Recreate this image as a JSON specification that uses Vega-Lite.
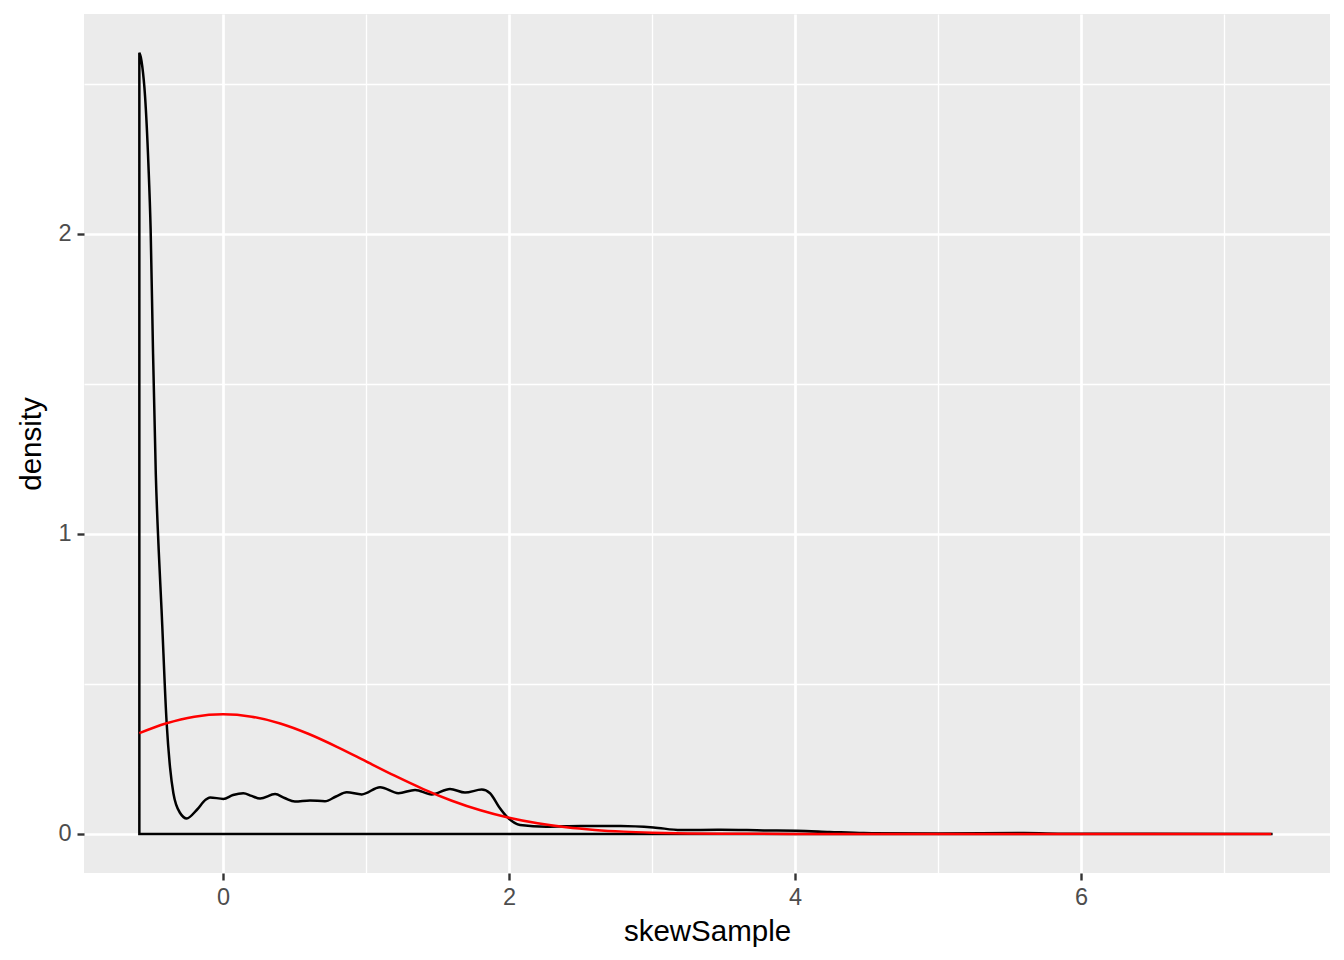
{
  "$schema": "https://vega.github.io/schema/vega-lite/v6.json",
  "width": 1246,
  "height": 859,
  "autosize": {"type": "none"},
  "padding": {"left": 84, "top": 14, "right": 14, "bottom": 87},
  "background": "white",
  "config": {
    "view": {"fill": "#EBEBEB", "stroke": null},
    "font": "Liberation Sans"
  },
  "datasets": {
    "dens": [
      {"x": -0.585, "d": 2.604}, {"x": -0.575, "d": 2.59}, {"x": -0.565, "d": 2.56},
      {"x": -0.545, "d": 2.458}, {"x": -0.522, "d": 2.236}, {"x": -0.506, "d": 2.013},
      {"x": -0.49, "d": 1.62}, {"x": -0.47, "d": 1.2}, {"x": -0.45, "d": 0.95},
      {"x": -0.43, "d": 0.75}, {"x": -0.394, "d": 0.369}, {"x": -0.37, "d": 0.22},
      {"x": -0.347, "d": 0.136}, {"x": -0.3, "d": 0.07}, {"x": -0.254, "d": 0.052},
      {"x": -0.184, "d": 0.08}, {"x": -0.12, "d": 0.115}, {"x": -0.091, "d": 0.122},
      {"x": 0.002, "d": 0.117}, {"x": 0.07, "d": 0.13}, {"x": 0.142, "d": 0.136},
      {"x": 0.2, "d": 0.127}, {"x": 0.259, "d": 0.118}, {"x": 0.364, "d": 0.133},
      {"x": 0.43, "d": 0.12}, {"x": 0.503, "d": 0.108}, {"x": 0.608, "d": 0.112},
      {"x": 0.713, "d": 0.109}, {"x": 0.79, "d": 0.125}, {"x": 0.865, "d": 0.139},
      {"x": 0.97, "d": 0.132}, {"x": 1.098, "d": 0.156}, {"x": 1.226, "d": 0.136},
      {"x": 1.343, "d": 0.147}, {"x": 1.459, "d": 0.132}, {"x": 1.587, "d": 0.15},
      {"x": 1.692, "d": 0.138}, {"x": 1.809, "d": 0.148}, {"x": 1.867, "d": 0.136},
      {"x": 1.93, "d": 0.09}, {"x": 1.984, "d": 0.058}, {"x": 2.077, "d": 0.03},
      {"x": 2.26, "d": 0.024}, {"x": 2.5, "d": 0.027}, {"x": 2.78, "d": 0.027},
      {"x": 3.01, "d": 0.022}, {"x": 3.2, "d": 0.013}, {"x": 3.48, "d": 0.014},
      {"x": 3.78, "d": 0.012}, {"x": 4.01, "d": 0.011}, {"x": 4.24, "d": 0.007},
      {"x": 4.48, "d": 0.003}, {"x": 5.0, "d": 0.002}, {"x": 5.6, "d": 0.003},
      {"x": 5.9, "d": 0.001}, {"x": 6.5, "d": 0.0005}, {"x": 7.33, "d": 0.0002}
    ],
    "norm": [
      {"x": -0.585, "d": 0.3362}, {"x": -0.4, "d": 0.3683}, {"x": -0.2, "d": 0.391},
      {"x": 0, "d": 0.3989}, {"x": 0.2, "d": 0.391}, {"x": 0.4, "d": 0.3683},
      {"x": 0.6, "d": 0.3332}, {"x": 0.8, "d": 0.2897}, {"x": 1.0, "d": 0.242},
      {"x": 1.2, "d": 0.1942}, {"x": 1.4, "d": 0.1497}, {"x": 1.6, "d": 0.1109},
      {"x": 1.8, "d": 0.079}, {"x": 2.0, "d": 0.054}, {"x": 2.2, "d": 0.0355},
      {"x": 2.4, "d": 0.0224}, {"x": 2.6, "d": 0.0136}, {"x": 2.8, "d": 0.0079},
      {"x": 3.0, "d": 0.0044}, {"x": 3.25, "d": 0.002}, {"x": 3.5, "d": 0.0009},
      {"x": 4.0, "d": 0.0001}, {"x": 5.0, "d": 0.0}, {"x": 6.0, "d": 0.0}, {"x": 7.33, "d": 0.0}
    ]
  },
  "layer": [
    {
      "data": {"name": "dens"},
      "mark": {"type": "area", "interpolate": "monotone", "fillOpacity": 0, "stroke": "black", "strokeWidth": 2.5},
      "encoding": {
        "x": {
          "field": "x", "type": "quantitative",
          "scale": {"domain": [-0.972, 7.74], "nice": false, "zero": false},
          "axis": {
            "values": [0, 2, 4, 6], "format": "d",
            "grid": true, "gridColor": "white", "gridWidth": 2.7,
            "domain": false, "tickColor": "#333333", "tickWidth": 2.4, "tickSize": 7,
            "labelFontSize": 23.5, "labelColor": "#4D4D4D", "labelPadding": 5,
            "title": "skewSample", "titleFontSize": 29.5, "titleFontWeight": "normal", "titleColor": "black",
            "titleBaseline": "alphabetic", "titleY": 67
          }
        },
        "y": {
          "field": "d", "type": "quantitative",
          "scale": {"domain": [-0.13, 2.733], "nice": false, "zero": false},
          "axis": {
            "values": [0, 1, 2], "format": "d",
            "grid": true, "gridColor": "white", "gridWidth": 2.7,
            "domain": false, "tickColor": "#333333", "tickWidth": 2.4, "tickSize": 7,
            "labelFontSize": 23.5, "labelColor": "#4D4D4D", "labelPadding": 6,
            "title": "density", "titleFontSize": 29.5, "titleFontWeight": "normal", "titleColor": "black",
            "titleBaseline": "alphabetic", "titleX": -44
          }
        },
        "y2": {"datum": 0}
      }
    },
    {
      "data": {"name": "norm"},
      "mark": {"type": "line", "interpolate": "monotone", "color": "#FF0000", "strokeWidth": 2.5},
      "encoding": {
        "x": {
          "field": "x", "type": "quantitative",
          "scale": {"domain": [-0.972, 7.74], "nice": false, "zero": false},
          "axis": {
            "orient": "bottom", "values": [1, 3, 5, 7],
            "grid": true, "gridColor": "white", "gridWidth": 1.35,
            "domain": false, "ticks": false, "labels": false, "title": null
          }
        },
        "y": {
          "field": "d", "type": "quantitative",
          "scale": {"domain": [-0.13, 2.733], "nice": false, "zero": false},
          "axis": {
            "orient": "left", "values": [0.5, 1.5, 2.5],
            "grid": true, "gridColor": "white", "gridWidth": 1.35,
            "domain": false, "ticks": false, "labels": false, "title": null
          }
        }
      }
    }
  ],
  "resolve": {"axis": {"x": "independent", "y": "independent"}}
}
